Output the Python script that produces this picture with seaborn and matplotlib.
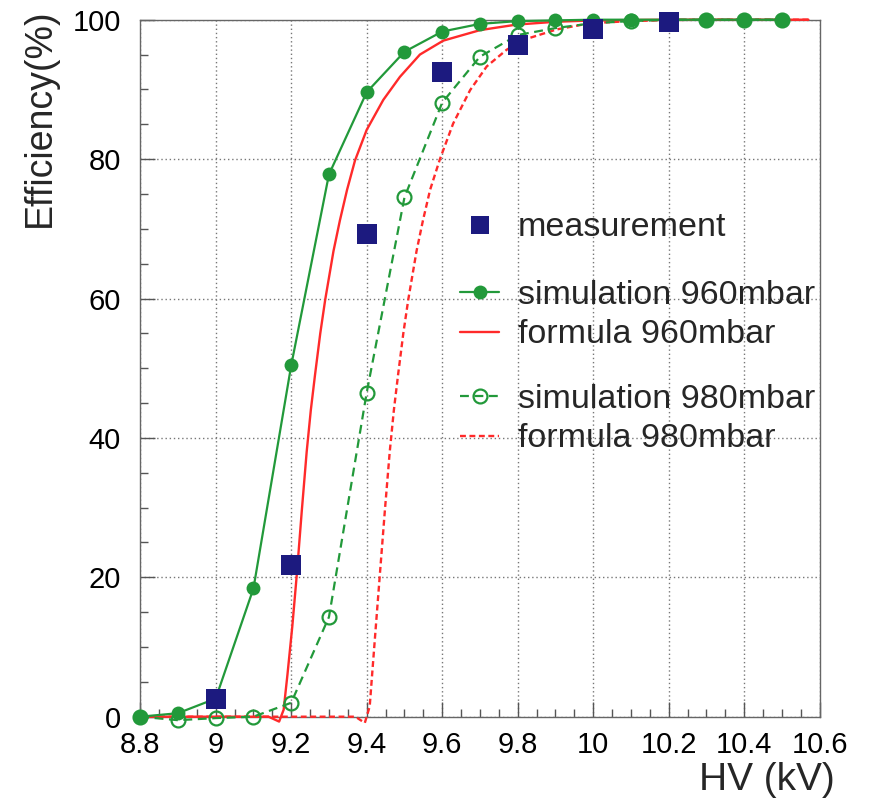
import numpy as np
import pandas as pd
import seaborn as sns
import matplotlib
matplotlib.use("Agg")
import matplotlib.pyplot as plt
from matplotlib.lines import Line2D
from matplotlib.ticker import MultipleLocator

# ---------------- data ----------------
meas_hv = [9.0, 9.2, 9.4, 9.6, 9.8, 10.0, 10.2]
meas_eff = [2.6, 21.8, 69.3, 92.5, 96.4, 98.7, 99.6]

sim960_hv = [8.8, 8.9, 9.0, 9.1, 9.2, 9.3, 9.4, 9.5, 9.6, 9.7, 9.8, 9.9, 10.0,
             10.1, 10.2, 10.3, 10.4, 10.5]
sim960_eff = [0.0, 0.5, 2.6, 18.4, 50.4, 77.8, 89.6, 95.4, 98.3, 99.4, 99.8,
              99.9, 100.0, 100.0, 100.0, 100.0, 100.0, 100.0]

sim980_hv = [8.8, 8.9, 9.0, 9.1, 9.2, 9.3, 9.4, 9.5, 9.6, 9.7, 9.8, 9.9, 10.0,
             10.1, 10.2, 10.3, 10.4, 10.5]
sim980_eff = [0.0, -0.5, -0.2, 0.0, 2.0, 14.3, 46.5, 74.5, 88.1, 94.7, 97.8,
              98.8, 99.5, 99.8, 100.0, 100.0, 100.0, 100.0]

form960_hv = [8.8, 9.14, 9.168, 9.18, 9.19, 9.203, 9.215, 9.228, 9.241, 9.252,
              9.263, 9.277, 9.29, 9.312, 9.329, 9.348, 9.369, 9.40, 9.444,
              9.488, 9.541, 9.603, 9.70, 9.797, 9.9, 10.0, 10.2, 10.57]
form960_eff = [0.0, 0.0, -0.7, 1.0, 6.0, 13.0, 20.5, 29.5, 38.0, 44.0,
               49.0, 55.0, 59.8, 66.8, 71.2, 75.6, 79.8, 84.2, 88.5,
               91.8, 95.0, 97.0, 98.5, 99.3, 99.7, 99.9, 100.0, 100.0]

form980_hv = [8.8, 9.37, 9.395, 9.408, 9.415, 9.425, 9.435, 9.448, 9.461, 9.472,
              9.483, 9.497, 9.51, 9.532, 9.549, 9.568, 9.594, 9.629, 9.674,
              9.718, 9.771, 9.815, 9.903, 9.992, 10.1, 10.2, 10.3, 10.57]
form980_eff = [0.0, 0.0, -0.9, 1.5, 6.5, 13.5, 20.5, 29.5, 38.0, 44.0,
               49.0, 55.0, 59.8, 66.8, 71.2, 75.6, 80.0, 85.1, 89.9,
               93.3, 95.7, 97.1, 98.6, 99.5, 99.8, 99.95, 100.0, 100.0]

labels = ["measurement", "simulation 960mbar", "formula 960mbar",
          "simulation 980mbar", "formula 980mbar"]
x_ticks = [8.8, 9.0, 9.2, 9.4, 9.6, 9.8, 10.0, 10.2, 10.4, 10.6]
x_ticklabels = ["8.8", "9", "9.2", "9.4", "9.6", "9.8", "10", "10.2", "10.4", "10.6"]
y_ticks = [0, 20, 40, 60, 80, 100]

# ---------------- style ----------------
GREEN = "#22993a"
RED = "#ff2a2a"
NAVY = "#1c1a7f"
sns.set_theme(style="white")
plt.rcParams["font.family"] = ["Liberation Sans", "DejaVu Sans"]

W, H = 869, 798
fig = plt.figure(figsize=(W / 100, H / 100), dpi=100)
ax_l, ax_r, ax_t, ax_b = 140.2, 819.7, 19.7, 716.7
ax = fig.add_axes([ax_l / W, 1 - ax_b / H, (ax_r - ax_l) / W, (ax_b - ax_t) / H])

# ---------------- marks ----------------
sns.lineplot(x=form960_hv, y=form960_eff, ax=ax, color=RED, lw=1.7,
             sort=False, estimator=None, zorder=3, clip_on=False)
sns.lineplot(x=form980_hv, y=form980_eff, ax=ax, color=RED, lw=1.7,
             linestyle=(0, (2.5, 1.5)), sort=False, estimator=None, zorder=3,
             clip_on=False)
sns.lineplot(x=sim960_hv, y=sim960_eff, ax=ax, color=GREEN, lw=1.6,
             marker="o", markersize=10, markeredgewidth=0,
             sort=False, estimator=None, zorder=4, clip_on=False)
sns.lineplot(x=sim980_hv, y=sim980_eff, ax=ax, color=GREEN, lw=1.6,
             linestyle=(0, (4, 2.5)), marker="o", markersize=10,
             markerfacecolor="none", markeredgecolor=GREEN, markeredgewidth=1.6,
             sort=False, estimator=None, zorder=4, clip_on=False)
sns.scatterplot(x=meas_hv, y=meas_eff, ax=ax, color=NAVY, marker="s", s=190,
                linewidth=0, zorder=5, clip_on=False)

# ---------------- axes ----------------
ax.set_xlim(8.8, 10.6)
ax.set_ylim(0, 100)
ax.set_xticks(x_ticks)
ax.set_xticklabels(x_ticklabels)
ax.set_yticks(y_ticks)
ax.xaxis.set_minor_locator(MultipleLocator(0.05))
ax.yaxis.set_minor_locator(MultipleLocator(5))
ax.tick_params(axis="both", which="major", direction="in", length=11, width=1,
               color="#555555", labelsize=21, labelcolor="black")
ax.tick_params(axis="x", which="major", pad=10)
ax.tick_params(axis="y", which="major", pad=14)
ax.tick_params(axis="both", which="minor", direction="in", length=6, width=1,
               color="#555555")
ax.tick_params(bottom=True, left=True, which="both")
ax.grid(True, which="major", linestyle=(0, (1, 2)), color="#777777", lw=1)
for sp in ax.spines.values():
    sp.set_visible(True)
    sp.set_color("#666666")
    sp.set_linewidth(1.0)

ax.set_xlabel("HV (kV)", fontsize=28, loc="right")
ax.xaxis.set_label_coords((835 - ax_l) / (ax_r - ax_l), -(780 - ax_b) / (ax_b - ax_t))
ax.xaxis.label.set_va("center")
ax.set_ylabel("Efficiency(%)", fontsize=27, loc="top")
ax.yaxis.set_label_coords(-(140.2 - 40) / (ax_r - ax_l), (ax_b - 8) / (ax_b - ax_t))
ax.yaxis.label.set_va("center")

# ---------------- legends ----------------
fs = 24.5
common = dict(frameon=False, fontsize=fs, handlelength=1.15, handletextpad=0.55,
              borderpad=0, borderaxespad=0, loc="center left",
              bbox_transform=fig.transFigure, labelspacing=0.26)
h_meas = Line2D([], [], ls="none", marker="s", markersize=13.5, color=NAVY, mew=0)
h_s960 = Line2D([], [], color=GREEN, lw=1.6, marker="o", markersize=10, mew=0)
h_f960 = Line2D([], [], color=RED, lw=1.7)
h_s980 = Line2D([], [], color=GREEN, lw=1.6, ls=(0, (4, 2.5)), marker="o",
                markersize=10, mfc="none", mec=GREEN, mew=1.6)
h_f980 = Line2D([], [], color=RED, lw=1.7, ls=(0, (2.5, 1.5)))

lg1 = ax.legend([h_meas], [labels[0]], bbox_to_anchor=(460 / W, 1 - 228 / H), **common)
ax.add_artist(lg1)
lg2 = ax.legend([h_s960, h_f960], labels[1:3], bbox_to_anchor=(460 / W, 1 - 315 / H), **common)
ax.add_artist(lg2)
lg3 = ax.legend([h_s980, h_f980], labels[3:5], bbox_to_anchor=(460 / W, 1 - 419 / H), **common)

fig.savefig("out.png", dpi=100)
